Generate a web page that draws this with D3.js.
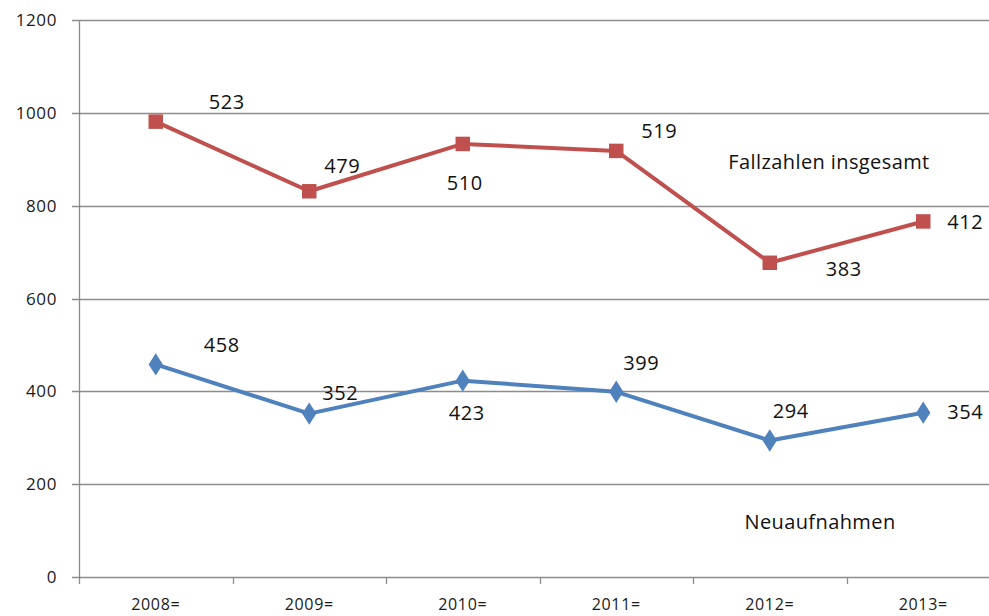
<!DOCTYPE html>
<html>
<head>
<meta charset="utf-8">
<script src="https://cdn.jsdelivr.net/npm/d3@7"></script>
<style>
  body { margin: 0; background: #fff; }
  text { font-family: "Open Sans", "Noto Sans", sans-serif; }
</style>
</head>
<body>
<div id="chart"></div>
<script>
// data
var years = ["2008=", "2009=", "2010=", "2011=", "2012=", "2013="];
var neuaufnahmen = [458, 352, 423, 399, 294, 354];
var weitere = [523, 479, 510, 519, 383, 412];   // stacked on top of Neuaufnahmen
var yTicks = [0, 200, 400, 600, 800, 1000, 1200];

// label offsets (px) relative to the point
var redLabelOff = [[71, -20], [33, -25], [2, 39], [43, -20], [74, 6], [42, 1]];
var blueLabelOff = [[66, -19], [31, -21], [4, 32], [25, -29], [21, -30], [42, -1]];

var W = 989, H = 616;
var margin = { top: 20, left: 79, bottom: 39 };
var bandW = 153.5;

var svg = d3.select("#chart")
    .append("svg")
    .attr("width", W)
    .attr("height", H);

var x = d3.scaleBand()
    .domain(years)
    .range([margin.left, margin.left + bandW * years.length]);

var y = d3.scaleLinear()
    .domain([0, 1200])
    .range([H - margin.bottom, margin.top]);

// gridlines
svg.append("g")
    .selectAll("line")
    .data(yTicks)
    .enter()
    .append("line")
    .attr("x1", margin.left - 7)
    .attr("x2", W)
    .attr("y1", d => Math.round(y(d)) + 0.5)
    .attr("y2", d => Math.round(y(d)) + 0.5)
    .attr("stroke", "#8c8c8c")
    .attr("stroke-width", 1.3);

// y axis line
svg.append("line")
    .attr("x1", margin.left + 0.5).attr("x2", margin.left + 0.5)
    .attr("y1", y(1200)).attr("y2", y(0) + 7)
    .attr("stroke", "#8c8c8c")
    .attr("stroke-width", 1.3);

// y tick labels
svg.append("g")
    .selectAll("text")
    .data(yTicks)
    .enter()
    .append("text")
    .attr("x", 57)
    .attr("y", d => y(d) + 6)
    .attr("text-anchor", "end")
    .style("font-size", "17px")
    .style("letter-spacing", "0.6px")
    .style("fill", "#1a1a1a")
    .text(d => d);

// x ticks
svg.append("g")
    .selectAll("line")
    .data(years)
    .enter()
    .append("line")
    .attr("x1", d => Math.round(x(d) + bandW) + 0.5)
    .attr("x2", d => Math.round(x(d) + bandW) + 0.5)
    .attr("y1", y(0))
    .attr("y2", y(0) + 7)
    .attr("stroke", "#8c8c8c")
    .attr("stroke-width", 1.3);

// x labels
svg.append("g")
    .selectAll("text")
    .data(years)
    .enter()
    .append("text")
    .attr("x", d => x(d) + bandW / 2)
    .attr("y", 610)
    .attr("text-anchor", "middle")
    .style("font-size", "16px")
    .style("letter-spacing", "0.7px")
    .style("fill", "#1a1a1a")
    .text(d => d);

var cx = d => x(d) + bandW / 2;
var blueData = years.map((d, i) => ({ year: d, v: neuaufnahmen[i], top: neuaufnahmen[i] }));
var redData = years.map((d, i) => ({ year: d, v: weitere[i], top: neuaufnahmen[i] + weitere[i] }));

var line = d3.line()
    .x(d => cx(d.year))
    .y(d => y(d.top));

function drawSeries(data, color, marker, offsets) {
    svg.append("path")
        .datum(data)
        .attr("d", line)
        .attr("fill", "none")
        .attr("stroke", color)
        .attr("stroke-width", 4)
        .attr("stroke-linejoin", "round");

    svg.append("g")
        .selectAll("path")
        .data(data)
        .enter()
        .append("path")
        .attr("d", d3.symbol().type(marker).size(marker === d3.symbolSquare ? 210 : 160))
        .attr("transform", d => "translate(" + cx(d.year) + "," + y(d.top) + ")" + (marker === d3.symbolDiamond ? " scale(1.05,0.95)" : ""))
        .attr("fill", color);

    svg.append("g")
        .selectAll("text")
        .data(data)
        .enter()
        .append("text")
        .attr("x", (d, i) => cx(d.year) + offsets[i][0])
        .attr("y", (d, i) => y(d.top) + offsets[i][1] + 7)
        .attr("text-anchor", "middle")
        .style("font-size", "20px")
        .style("letter-spacing", "0.5px")
        .style("fill", "#111")
        .text(d => d.v);
}

drawSeries(redData, "#c0504d", d3.symbolSquare, redLabelOff);
drawSeries(blueData, "#4f81bd", d3.symbolDiamond, blueLabelOff);

// series names
svg.append("text")
    .attr("x", 829).attr("y", 169)
    .attr("text-anchor", "middle")
    .style("font-size", "20px")
    .style("letter-spacing", "0.4px")
    .style("fill", "#111")
    .text("Fallzahlen insgesamt");

svg.append("text")
    .attr("x", 820).attr("y", 529)
    .attr("text-anchor", "middle")
    .style("font-size", "20px")
    .style("letter-spacing", "0.4px")
    .style("fill", "#111")
    .text("Neuaufnahmen");
</script>
</body>
</html>
